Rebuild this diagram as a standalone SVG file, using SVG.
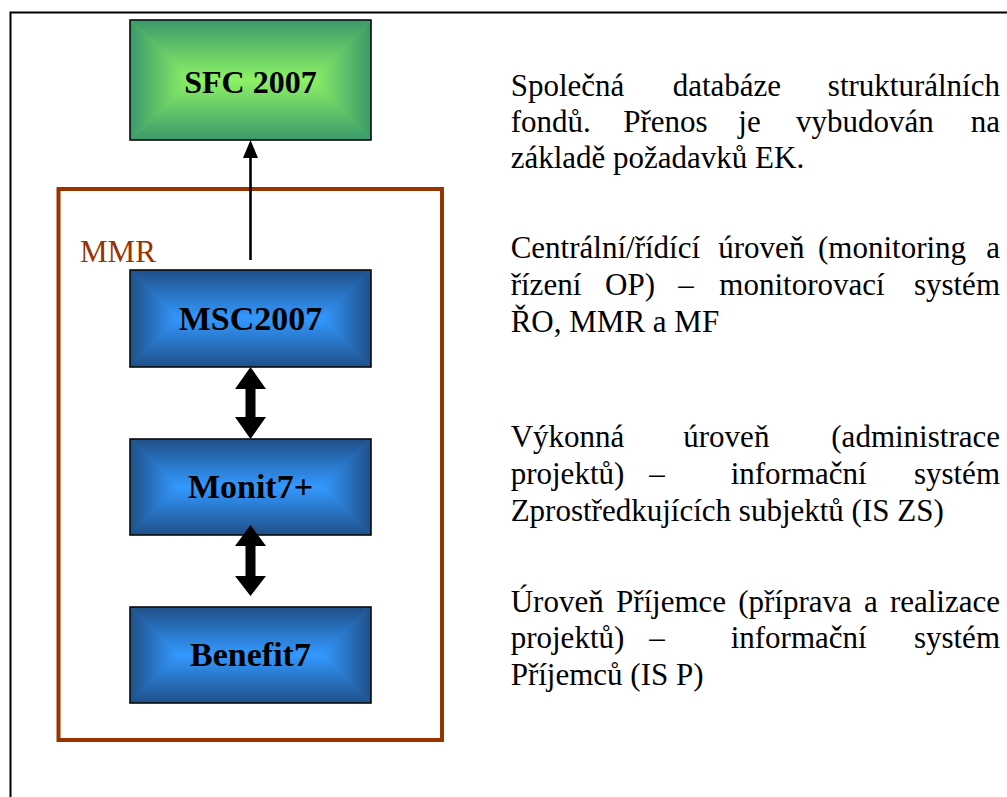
<svg xmlns="http://www.w3.org/2000/svg" width="1007" height="797" viewBox="0 0 1007 797">
<style>
.frame{fill:none;stroke:#000;stroke-width:2}
.mmr{fill:none;stroke:#993300;stroke-width:4}
.box{fill:none;stroke:#0a0a0a;stroke-width:1.6}
.lbl{font-family:"Liberation Serif","Times New Roman",serif;font-weight:bold;fill:#000;text-anchor:middle}
.txt{font-family:"Liberation Serif","Times New Roman",serif;font-size:31px;fill:#000}
.end{text-anchor:end}
</style>
<defs>
<linearGradient id="gT" x1="0" y1="0" x2="0" y2="1"><stop offset="0" stop-color="#3a9a6a"/><stop offset="1" stop-color="#8df266"/></linearGradient>
<linearGradient id="gB" x1="0" y1="1" x2="0" y2="0"><stop offset="0" stop-color="#3a9a6a"/><stop offset="1" stop-color="#8df266"/></linearGradient>
<linearGradient id="gL" x1="0" y1="0" x2="1" y2="0"><stop offset="0" stop-color="#3a9a6a"/><stop offset="1" stop-color="#8df266"/></linearGradient>
<linearGradient id="gR" x1="1" y1="0" x2="0" y2="0"><stop offset="0" stop-color="#3a9a6a"/><stop offset="1" stop-color="#8df266"/></linearGradient>
<linearGradient id="bT" x1="0" y1="0" x2="0" y2="1"><stop offset="0" stop-color="#1f4f88"/><stop offset="1" stop-color="#3399ff"/></linearGradient>
<linearGradient id="bB" x1="0" y1="1" x2="0" y2="0"><stop offset="0" stop-color="#1f4f88"/><stop offset="1" stop-color="#3399ff"/></linearGradient>
<linearGradient id="bL" x1="0" y1="0" x2="1" y2="0"><stop offset="0" stop-color="#1f4f88"/><stop offset="1" stop-color="#3399ff"/></linearGradient>
<linearGradient id="bR" x1="1" y1="0" x2="0" y2="0"><stop offset="0" stop-color="#1f4f88"/><stop offset="1" stop-color="#3399ff"/></linearGradient>
</defs>
<rect width="1007" height="797" fill="#fff"/>
<path class="frame" d="M10.5,797 V12.5 H1007"/>

<g id="mmr-frame">
<rect class="mmr" x="58.5" y="189" width="383.5" height="551"/>
<text x="80" y="262" class="txt" style="fill:#993300">MMR</text>
</g>

<g id="sfc2007">
<rect x="130" y="20" width="241" height="120" fill="#6cc866"/>
<polygon points="130,20 371,20 311,80 190,80" fill="url(#gT)"/>
<polygon points="130,140 371,140 311,80 190,80" fill="url(#gB)"/>
<polygon points="130,20 190,80 130,140" fill="url(#gL)"/>
<polygon points="371,20 311,80 371,140" fill="url(#gR)"/>
<rect class="box" x="130" y="20" width="241" height="120"/>
<text class="lbl" x="250.5" y="93" font-size="32">SFC 2007</text>
</g>

<g id="msc2007">
<rect x="130" y="270" width="241" height="97" fill="#2a78cc"/>
<polygon points="130,270 371,270 322.5,318.5 178.5,318.5" fill="url(#bT)"/>
<polygon points="130,367 371,367 322.5,318.5 178.5,318.5" fill="url(#bB)"/>
<polygon points="130,270 178.5,318.5 130,367" fill="url(#bL)"/>
<polygon points="371,270 322.5,318.5 371,367" fill="url(#bR)"/>
<rect class="box" x="130" y="270" width="241" height="97"/>
<text class="lbl" x="250.5" y="330" font-size="34">MSC2007</text>
</g>

<g id="monit7">
<rect x="130" y="439" width="241" height="96" fill="#2a78cc"/>
<polygon points="130,439 371,439 323,487 178,487" fill="url(#bT)"/>
<polygon points="130,535 371,535 323,487 178,487" fill="url(#bB)"/>
<polygon points="130,439 178,487 130,535" fill="url(#bL)"/>
<polygon points="371,439 323,487 371,535" fill="url(#bR)"/>
<rect class="box" x="130" y="439" width="241" height="96"/>
<text class="lbl" x="250.5" y="498" font-size="34">Monit7+</text>
</g>

<g id="benefit7">
<rect x="130" y="607" width="241" height="96" fill="#2a78cc"/>
<polygon points="130,607 371,607 323,655 178,655" fill="url(#bT)"/>
<polygon points="130,703 371,703 323,655 178,655" fill="url(#bB)"/>
<polygon points="130,607 178,655 130,703" fill="url(#bL)"/>
<polygon points="371,607 323,655 371,703" fill="url(#bR)"/>
<rect class="box" x="130" y="607" width="241" height="96"/>
<text class="lbl" x="250.5" y="666" font-size="34">Benefit7</text>
</g>

<g id="connectors">
<line x1="250.5" y1="260" x2="250.5" y2="155" stroke="#000" stroke-width="2.6"/>
<polygon points="250.5,140 243,158 258,158" fill="#000"/>
<polygon points="250.5,367 266,389 255.5,389 255.5,417 266,417 250.5,439 235,417 245.5,417 245.5,389 235,389" fill="#000"/>
<polygon points="250.5,525 266,546 255.5,546 255.5,576 266,576 250.5,596 235,576 245.5,576 245.5,546 235,546" fill="#000"/>
</g>

<g id="descriptions">
<text class="txt" x="510.7" y="96">Společná</text>
<text class="txt" x="672.7" y="96">databáze</text>
<text class="txt end" x="1000" y="96">strukturálních</text>
<text class="txt" x="510.7" y="132">fondů.</text>
<text class="txt" x="623.3" y="132">Přenos</text>
<text class="txt" x="738.3" y="132">je</text>
<text class="txt" x="796" y="132">vybudován</text>
<text class="txt end" x="1000" y="132">na</text>
<text class="txt" x="510.7" y="168">základě požadavků EK.</text>

<text class="txt" x="510.7" y="258">Centrální/řídící</text>
<text class="txt" x="718.3" y="258">úroveň</text>
<text class="txt" x="818" y="258">(monitoring</text>
<text class="txt end" x="1000" y="258">a</text>
<text class="txt" x="510.7" y="295">řízení</text>
<text class="txt" x="605" y="295">OP)</text>
<text class="txt" x="678.3" y="295">–</text>
<text class="txt" x="719.3" y="295">monitorovací</text>
<text class="txt end" x="1000" y="295">systém</text>
<text class="txt" x="510.7" y="332">ŘO, MMR a MF</text>

<text class="txt" x="510.7" y="447">Výkonná</text>
<text class="txt" x="683.3" y="447">úroveň</text>
<text class="txt end" x="1000" y="447">(administrace</text>
<text class="txt" x="510.7" y="484">projektů)</text>
<text class="txt" x="649.3" y="484">–</text>
<text class="txt" x="730.7" y="484">informační</text>
<text class="txt end" x="1000" y="484">systém</text>
<text class="txt" x="510.7" y="521">Zprostředkujících subjektů (IS ZS)</text>

<text class="txt" x="510.7" y="612">Úroveň</text>
<text class="txt" x="615.9" y="612">Příjemce</text>
<text class="txt" x="738.2" y="612">(příprava</text>
<text class="txt" x="864" y="612">a</text>
<text class="txt end" x="1000" y="612">realizace</text>
<text class="txt" x="510.7" y="648">projektů)</text>
<text class="txt" x="649.3" y="648">–</text>
<text class="txt" x="730.7" y="648">informační</text>
<text class="txt end" x="1000" y="648">systém</text>
<text class="txt" x="510.7" y="685">Příjemců (IS P)</text>
</g>
</svg>
